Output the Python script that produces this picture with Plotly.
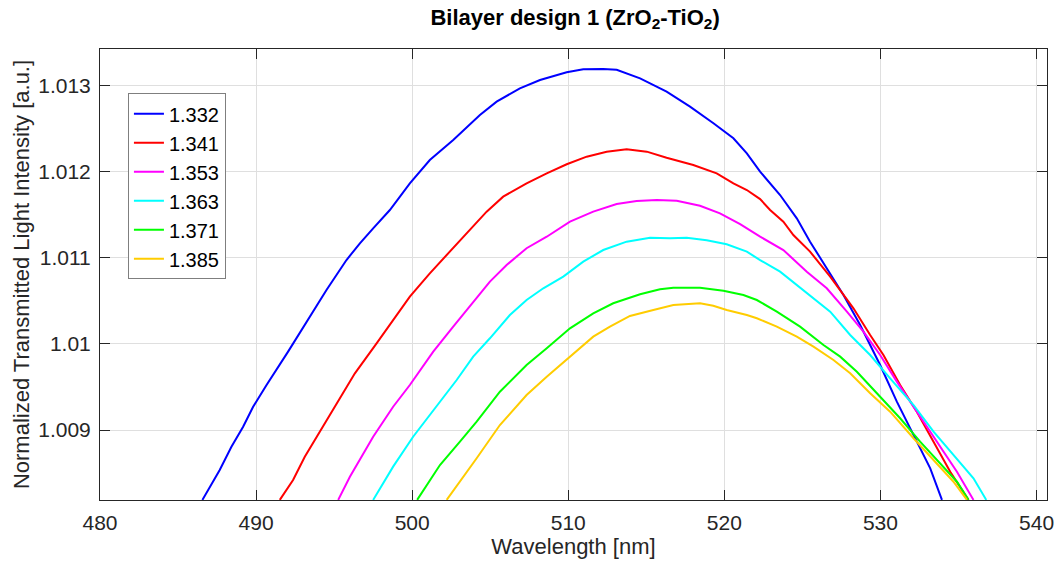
import plotly.graph_objects as go

# ---- data ----
wl_1332 = [486.56, 487.67, 488.42, 489.17, 489.81, 490.67, 492.05, 493.12, 494.51, 495.79, 496.65, 497.5,
           498.57, 499.85, 501.13, 502.63, 504.34, 505.41, 506.9, 508.19, 509.9, 510.96, 512.24, 513.1,
           514.6, 516.3, 517.8, 519.3, 520.58, 521.44, 522.29, 523.57, 524.64, 525.49, 526.56, 527.63,
           528.7, 529.98, 531.05, 532.12, 533.19, 533.94]
v_1332 = [1.00819, 1.008537, 1.008807, 1.009039, 1.009271, 1.009523, 1.00991, 1.010219, 1.010625, 1.010973,
          1.011167, 1.011341, 1.011553, 1.011863, 1.012133, 1.012365, 1.012655, 1.01281, 1.012965, 1.013061,
          1.013151, 1.013186, 1.013189, 1.013181, 1.013081, 1.012926, 1.012752, 1.012559, 1.012385, 1.012211,
          1.011998, 1.011727, 1.011457, 1.011186, 1.010877, 1.010567, 1.010219, 1.009755, 1.00933, 1.008943,
          1.008557, 1.00819]

wl_1341 = [491.52, 492.37, 493.12, 494.51, 495.15, 496.33, 497.72, 498.78, 499.85, 501.13, 502.21, 503.49,
           504.34, 504.77, 505.83, 507.33, 508.62, 509.9, 511.18, 512.46, 513.74, 515.03, 516.3, 518.01,
           519.51, 520.58, 521.44, 522.29, 522.93, 523.78, 524.42, 525.49, 526.78, 528.27, 529.34, 530.19,
           531.26, 532.33, 533.4, 534.47, 535.64]
v_1341 = [1.00819, 1.008421, 1.008691, 1.009117, 1.009311, 1.009659, 1.010007, 1.010277, 1.010548, 1.010819,
          1.011031, 1.011283, 1.011437, 1.011534, 1.011708, 1.011863, 1.011979, 1.012084, 1.012172, 1.01223,
          1.012257, 1.01223, 1.01216, 1.012075, 1.011979, 1.011863, 1.011785, 1.01168, 1.011553, 1.011418,
          1.011263, 1.01107, 1.01078, 1.010413, 1.010103, 1.009871, 1.009523, 1.009214, 1.008866, 1.008517,
          1.00819]

wl_1353 = [495.26, 496.01, 497.5, 498.78, 499.85, 501.35, 502.63, 503.7, 504.98, 506.05, 507.33, 508.62,
           510.11, 511.6, 513.1, 514.38, 515.67, 516.95, 518.44, 519.72, 521.01, 522.29, 523.78, 525.28,
           526.56, 527.85, 528.91, 529.98, 531.05, 532.33, 533.62, 534.9, 535.96]
v_1353 = [1.00819, 1.008459, 1.008923, 1.009271, 1.009523, 1.00991, 1.0102, 1.010432, 1.010722, 1.010915,
          1.01111, 1.011243, 1.011418, 1.011534, 1.011623, 1.011658, 1.01167, 1.011661, 1.011603, 1.011515,
          1.01139, 1.011244, 1.011089, 1.010838, 1.010645, 1.010374, 1.010142, 1.009871, 1.009562, 1.009214,
          1.008866, 1.008517, 1.00819]

wl_1363 = [497.5, 498.78, 500.06, 501.35, 502.85, 503.91, 504.98, 506.26, 507.33, 508.4, 509.68, 510.96,
           512.24, 513.74, 515.24, 516.52, 517.59, 518.87, 520.15, 521.44, 522.29, 523.57, 524.64, 525.49,
           526.78, 528.06, 529.34, 530.62, 532.12, 533.4, 534.68, 535.96, 536.78]
v_1363 = [1.00819, 1.008576, 1.008923, 1.009233, 1.009581, 1.009852, 1.010065, 1.010335, 1.010509, 1.010645,
          1.01078, 1.010954, 1.011089, 1.011186, 1.011232, 1.011225, 1.011232, 1.011202, 1.011155, 1.01107,
          1.010973, 1.010838, 1.010683, 1.010567, 1.010374, 1.010103, 1.009871, 1.009601, 1.009291, 1.008982,
          1.008711, 1.008441, 1.00819]

wl_1371 = [500.32, 501.78, 503.06, 504.13, 505.62, 507.33, 508.62, 510.11, 511.6, 512.88, 514.6, 515.88,
           516.73, 518.44, 519.94, 521.22, 522.08, 523.36, 524.85, 526.35, 527.42, 528.49, 529.98, 531.26,
           532.54, 533.83, 534.9, 535.64]
v_1371 = [1.00819, 1.008595, 1.008866, 1.009098, 1.009445, 1.009755, 1.009949, 1.010181, 1.010355, 1.010471,
          1.010575, 1.010633, 1.010652, 1.010652, 1.010617, 1.010567, 1.010509, 1.010374, 1.0102, 1.009987,
          1.009852, 1.009677, 1.009387, 1.009137, 1.008866, 1.008615, 1.008401, 1.00819]

wl_1385 = [502.21, 503.06, 504.13, 505.62, 507.33, 508.62, 510.11, 511.6, 512.67, 513.95, 515.45, 516.73,
           518.44, 519.29, 520.15, 521.44, 522.08, 523.36, 524.64, 525.71, 526.99, 528.06, 529.34, 530.62,
           532.12, 533.62, 534.68, 535.54]
v_1385 = [1.00819, 1.008401, 1.008673, 1.009059, 1.009407, 1.00962, 1.009852, 1.010084, 1.0102, 1.010324,
          1.010393, 1.010451, 1.010471, 1.010443, 1.010393, 1.010335, 1.010297, 1.0102, 1.010084, 1.009968,
          1.009813, 1.009659, 1.009427, 1.009214, 1.008905, 1.008615, 1.008401, 1.00819]

series_names = ["1.332", "1.341", "1.353", "1.363", "1.371", "1.385"]
series_x = [wl_1332, wl_1341, wl_1353, wl_1363, wl_1371, wl_1385]
series_y = [v_1332, v_1341, v_1353, v_1363, v_1371, v_1385]
colors = ["#0000FF", "#FF0000", "#FF00FF", "#00FFFF", "#00FF00", "#FFCC00"]

x_ticks = [480, 490, 500, 510, 520, 530, 540]
y_ticks = [1.009, 1.010, 1.011, 1.012, 1.013]
y_tick_text = ["1.009", "1.01", "1.011", "1.012", "1.013"]

FONT = "Liberation Sans, Arial, sans-serif"
AX = "#262626"

fig = go.Figure()
for name, xs, ys, c in zip(series_names, series_x, series_y, colors):
    fig.add_trace(go.Scatter(x=xs, y=ys, mode="lines", name=name,
                             line=dict(color=c, width=2)))

axis_common = dict(
    showline=True, linecolor=AX, linewidth=1, mirror="ticks",
    ticks="inside", ticklen=10, tickwidth=1, tickcolor=AX,
    showgrid=True, gridcolor="#DFDFDF", gridwidth=1, zeroline=False,
    automargin=False,
    tickfont=dict(family=FONT, size=21, color=AX),
)

fig.update_layout(
    width=1062, height=565,
    paper_bgcolor="white", plot_bgcolor="white",
    margin=dict(l=100, r=15, t=49, b=65),
    title=dict(text="<b>Bilayer design 1 (ZrO<sub>2</sub>-TiO<sub>2</sub>)</b>",
               x=0.5415, xanchor="center", y=0.97, yanchor="middle", yref="container",
               font=dict(family=FONT, size=22, color="black")),
    xaxis=dict(range=[480, 540.67], tickvals=x_ticks, ticklabelstandoff=4,
               title=dict(text="Wavelength [nm]", standoff=5,
                          font=dict(family=FONT, size=22, color=AX)),
               **axis_common),
    yaxis=dict(range=[1.008189, 1.013421], tickvals=y_ticks, ticktext=y_tick_text,
               ticklabelstandoff=4,
               title=dict(text="Normalized Transmitted Light Intensity [a.u.]", standoff=2,
                          font=dict(family=FONT, size=22, color=AX)),
               **axis_common),
    legend=dict(x=0.0295, y=0.902, xanchor="left", yanchor="top",
                bgcolor="white", bordercolor="#7F7F7F", borderwidth=1,
                font=dict(family=FONT, size=20, color="black"),
                tracegroupgap=0, itemwidth=30),
    showlegend=True,
)

fig.write_html("out.html", config={"displayModeBar": False},
               post_script="document.body.style.margin='0px';document.body.style.overflow='hidden';")
